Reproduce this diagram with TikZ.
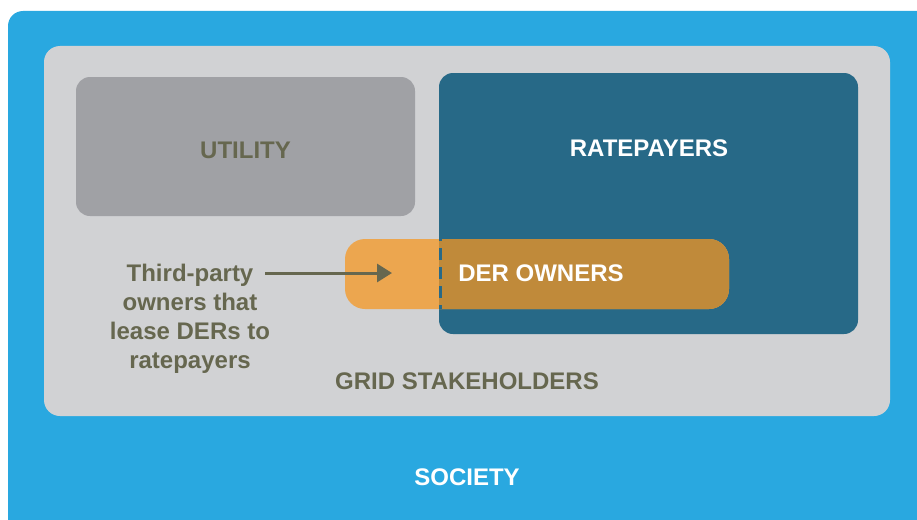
\documentclass[tikz,border=0pt]{standalone}
\usepackage{fontspec}
\setmainfont{Liberation Sans}
\usetikzlibrary{arrows.meta}
\definecolor{society}{HTML}{29A8E0}
\definecolor{gridgray}{HTML}{D1D2D4}
\definecolor{utilgray}{HTML}{A0A1A5}
\definecolor{ratepay}{HTML}{276987}
\definecolor{derorange}{HTML}{ECA64F}
\definecolor{overlap}{HTML}{C08A3A}
\definecolor{olive}{HTML}{66674F}
\tikzset{
  lbl/.style={font=\fontsize{24}{29}\selectfont\bfseries, inner sep=0pt},
  darklbl/.style={lbl, text=olive},
  whitelbl/.style={lbl, text=white},
  pointer/.style={draw=olive, line width=3pt, -{Triangle[length=15pt,width=18pt]}},
  seam/.style={draw=ratepay, line width=3pt, dash pattern=on 12pt off 7pt, dash phase=10pt}
}
\begin{document}
\begin{tikzpicture}[x=1pt,y=-1pt]
\useasboundingbox (0,0) rectangle (917,519);
\begin{scope}
\clip (0,0) rectangle (917,519);
\fill[society, rounded corners=15pt] (8,11) rectangle (950,560);
\end{scope}
\fill[gridgray, rounded corners=16pt] (44,46) rectangle (890,416);
\fill[utilgray, rounded corners=14pt] (76,77) rectangle (415,216);
\fill[ratepay, rounded corners=14pt] (439,73) rectangle (858,334);
\fill[derorange, rounded corners=20pt] (345,239) rectangle (729,309);
\begin{scope}
\clip (439,73) rectangle (858,334);
\fill[overlap, rounded corners=20pt] (345,239) rectangle (729,309);
\end{scope}
\draw[seam] (440.5,239) -- (440.5,309);
\node[darklbl] (utility) at (245.5,150) {UTILITY};
\node[whitelbl] (ratepayers) at (649,148) {RATEPAYERS};
\node[whitelbl] (der) at (541,273) {DER OWNERS};
\node[darklbl, align=center] (third) at (190,319) {Third-party\\owners that\\lease DERs to\\ratepayers};
\node[darklbl] (grid) at (467,381) {GRID STAKEHOLDERS};
\node[whitelbl] (society) at (467,477) {SOCIETY};
\coordinate (tail) at (265,273);
\coordinate (tip) at (392,273);
\draw[pointer] (tail) -- (tip);
\end{tikzpicture}
\end{document}
